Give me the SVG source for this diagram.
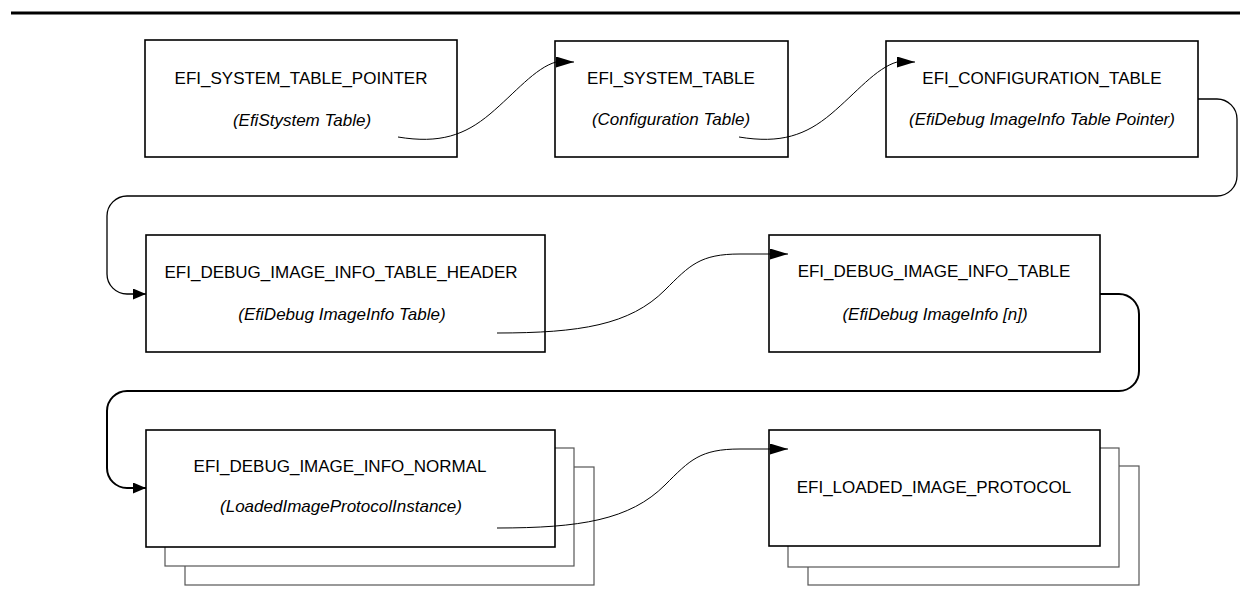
<svg xmlns="http://www.w3.org/2000/svg" width="1248" height="595" viewBox="0 0 1248 595">
<style>
.box{fill:#fff;stroke:#000;stroke-width:1.6}
.back{fill:#fff;stroke:#555;stroke-width:1.2}
.t{font-family:"Liberation Sans",Arial,sans-serif;font-size:17px;fill:#000;text-anchor:middle}
.i{font-style:italic}
.c{fill:none;stroke:#000;stroke-width:1}
</style>
<defs>
<marker id="arr" viewBox="0 0 18 11" refX="18" refY="5.5" markerWidth="18" markerHeight="11" markerUnits="userSpaceOnUse" orient="auto"><path d="M0,0 L18,5.5 L0,11 z" fill="#000"/></marker>
<marker id="arrs" viewBox="0 0 13 11" refX="13" refY="5.5" markerWidth="13" markerHeight="11" markerUnits="userSpaceOnUse" orient="auto"><path d="M0,0 L13,5.5 L0,11 z" fill="#000"/></marker>
</defs>
<rect width="1248" height="595" fill="#fff"/>
<line x1="11" y1="13" x2="1240" y2="13" stroke="#000" stroke-width="3"/>

<g id="n1"><rect class="box" x="145" y="40" width="312" height="117"/>
<text class="t" x="301" y="84">EFI_SYSTEM_TABLE_POINTER</text>
<text class="t i" x="302" y="126">(EfiStystem Table)</text></g>

<g id="n2"><rect class="box" x="555" y="41" width="233" height="116"/>
<text class="t" x="671" y="84">EFI_SYSTEM_TABLE</text>
<text class="t i" x="671" y="125">(Configuration Table)</text></g>

<g id="n3"><rect class="box" x="886" y="41" width="312" height="116"/>
<text class="t" x="1042" y="84">EFI_CONFIGURATION_TABLE</text>
<text class="t i" x="1042" y="125">(EfiDebug ImageInfo Table Pointer)</text></g>

<g id="n4"><rect class="box" x="146" y="235" width="399" height="117"/>
<text class="t" x="341" y="278">EFI_DEBUG_IMAGE_INFO_TABLE_HEADER</text>
<text class="t i" x="342" y="320">(EfiDebug ImageInfo Table)</text></g>

<g id="n5"><rect class="box" x="769" y="235" width="331" height="117"/>
<text class="t" x="934" y="277">EFI_DEBUG_IMAGE_INFO_TABLE</text>
<text class="t i" x="935" y="320">(EfiDebug ImageInfo [n])</text></g>

<g id="n6"><rect class="back" x="185" y="467" width="409" height="118"/>
<rect class="back" x="165" y="448" width="409" height="118"/>
<rect class="box" x="146" y="430" width="409" height="117"/>
<text class="t" x="340" y="472">EFI_DEBUG_IMAGE_INFO_NORMAL</text>
<text class="t i" x="341" y="512">(LoadedImageProtocolInstance)</text></g>

<g id="n7"><rect class="back" x="808" y="466" width="331" height="119"/>
<rect class="back" x="788" y="448" width="331" height="119"/>
<rect class="box" x="769" y="430" width="331" height="116"/>
<text class="t" x="934" y="493">EFI_LOADED_IMAGE_PROTOCOL</text></g>

<g id="connectors">
<path class="c" d="M398,137 C440,144 465,135 490,114 S535,68 556,62 L574,62" marker-end="url(#arr)"/>
<path class="c" d="M739,137 C781,144 806,135 831,114 S876,68 897,62 L915,62" marker-end="url(#arr)"/>
<path class="c" style="stroke-width:1.3" d="M1198,99 H1217 A20,20 0 0 1 1237,119 V176 A20,20 0 0 1 1217,196 H127 A20,20 0 0 0 107,216 V274 A20,20 0 0 0 127,294 H146" marker-end="url(#arrs)"/>
<path class="c" d="M497,333 C580,333 630,325 665,290 C690,265 700,254 740,254 L788,254" marker-end="url(#arr)"/>
<path class="c" style="stroke-width:2" d="M1100,294 H1119 A20,20 0 0 1 1139,314 V371 A20,20 0 0 1 1119,391 H127 A20,20 0 0 0 107,411 V468 A20,20 0 0 0 127,488 H146" marker-end="url(#arrs)"/>
<path class="c" d="M497,528 C580,528 630,520 665,485 C690,460 700,449 740,449 L788,449" marker-end="url(#arr)"/>
</g>
</svg>
